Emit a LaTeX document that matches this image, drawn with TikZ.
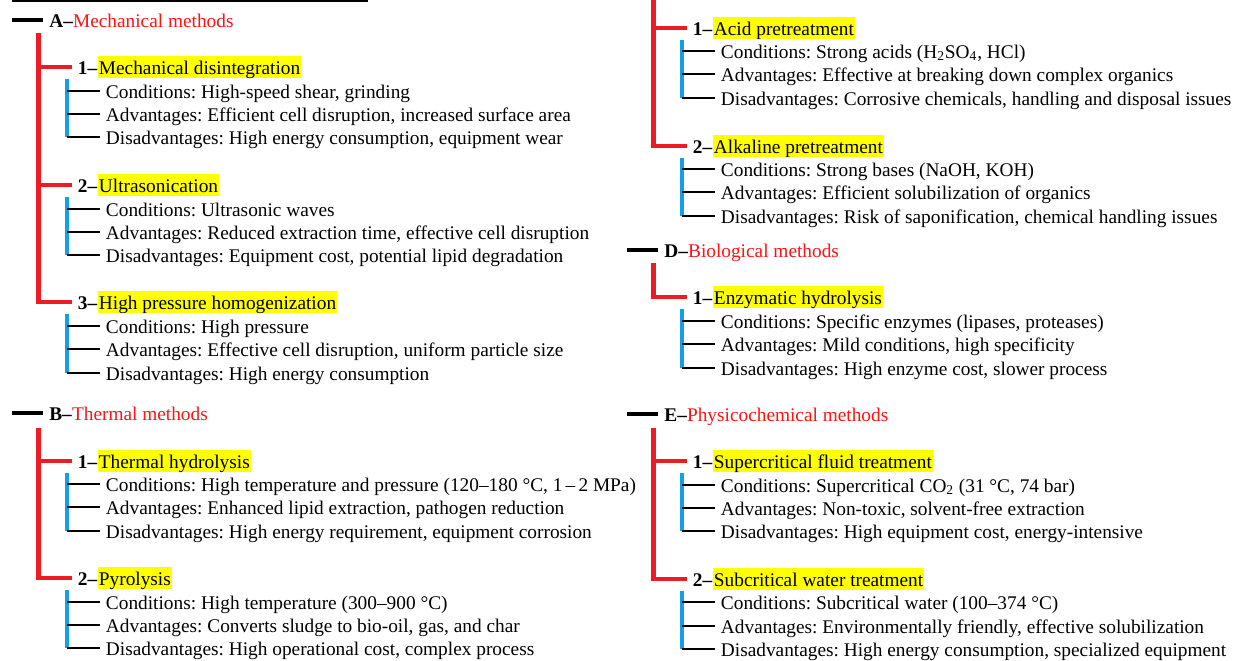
\documentclass[tikz,border=0pt]{standalone}
\usepackage{fontspec}
\setmainfont{Liberation Serif}
\usetikzlibrary{positioning}
\definecolor{lineRed}{RGB}{237,28,36}
\definecolor{textRed}{RGB}{250,20,20}
\definecolor{lineBlue}{RGB}{20,160,230}
\definecolor{markYellow}{RGB}{255,255,0}
\frenchspacing

\begin{document}
\begin{tikzpicture}[
    x=0.02cm, y=-0.02cm,
    font=\fontsize{11}{13}\selectfont,
    base/.style={inner sep=0pt, anchor=west, text height=9.5pt, text depth=1.5pt},
    heading/.style={base},
    num/.style={base, font=\fontsize{11}{13}\selectfont\bfseries},
    method/.style={base, fill=markYellow, inner xsep=0.6pt, inner ysep=0.75pt},
    leaf/.style={base, outer xsep=3.4pt},
    toprule/.style={line width=1.4pt},
    headbar/.style={line width=2.8pt, shorten >=3.4pt},
    branch/.style={draw=lineRed, line width=2.8pt, shorten >=3.4pt},
    stem/.style={draw=lineBlue, line width=2.1pt},
    twig/.style={line width=0.7pt}
]
    \useasboundingbox (0,0) rectangle (1239,660);

    % Top rule
    \coordinate (rule-l) at (12,1);
    \coordinate (rule-r) at (368,1);
    \draw[toprule] (rule-l) -- (rule-r);

    % Nodes - A
    \coordinate (A-bar) at (12,20);
    \node[heading] (hA) at (49,20) {\textbf{A–}\textcolor{textRed}{Mechanical methods}};
    \coordinate (A-top) at (38.5,33);

    \node[num] (a1n) at (77.5,67) {1–};
    \node[method, right=0pt of a1n] (a1) {Mechanical disintegration};
    \coordinate (a1-top) at (67,79);
    \node[leaf] (a1c) at (100,91) {Conditions: High-speed shear, grinding};
    \node[leaf] (a1a) at (100,114) {Advantages: Efficient cell disruption, increased surface area};
    \node[leaf] (a1d) at (100,137) {Disadvantages: High energy consumption, equipment wear};

    \node[num] (a2n) at (77.5,185) {2–};
    \node[method, right=0pt of a2n] (a2) {Ultrasonication};
    \coordinate (a2-top) at (67,197);
    \node[leaf] (a2c) at (100,209) {Conditions: Ultrasonic waves};
    \node[leaf] (a2a) at (100,232) {Advantages: Reduced extraction time, effective cell disruption};
    \node[leaf] (a2d) at (100,255) {Disadvantages: Equipment cost, potential lipid degradation};

    \node[num] (a3n) at (77.5,302) {3–};
    \node[method, right=0pt of a3n] (a3) {High pressure homogenization};
    \coordinate (a3-top) at (67,314);
    \node[leaf] (a3c) at (100,326) {Conditions: High pressure};
    \node[leaf] (a3a) at (100,349) {Advantages: Effective cell disruption, uniform particle size};
    \node[leaf] (a3d) at (100,373) {Disadvantages: High energy consumption};

    % Nodes - B
    \coordinate (B-bar) at (12,413);
    \node[heading] (hB) at (49,413) {\textbf{B–}\textcolor{textRed}{Thermal methods}};
    \coordinate (B-top) at (38.5,428);

    \node[num] (b1n) at (77.5,461) {1–};
    \node[method, right=0pt of b1n] (b1) {Thermal hydrolysis};
    \coordinate (b1-top) at (67,473);
    \node[leaf] (b1c) at (100,484) {Conditions: High temperature and pressure (120–180 °C, 1\,–\,2 MPa)};
    \node[leaf] (b1a) at (100,507) {Advantages: Enhanced lipid extraction, pathogen reduction};
    \node[leaf] (b1d) at (100,531) {Disadvantages: High energy requirement, equipment corrosion};

    \node[num] (b2n) at (77.5,578) {2–};
    \node[method, right=0pt of b2n] (b2) {Pyrolysis};
    \coordinate (b2-top) at (67,590);
    \node[leaf] (b2c) at (100,602) {Conditions: High temperature (300–900 °C)};
    \node[leaf] (b2a) at (100,625) {Advantages: Converts sludge to bio-oil, gas, and char};
    \node[leaf] (b2d) at (100,648) {Disadvantages: High operational cost, complex process};

    % Nodes - C
    \coordinate (C-top) at (653.5,-2);

    \node[num] (c1n) at (692.5,28) {1–};
    \node[method, right=0pt of c1n] (c1) {Acid pretreatment};
    \coordinate (c1-top) at (682,40);
    \node[leaf] (c1c) at (715,51) {Conditions: Strong acids (H\textsubscript{2}SO\textsubscript{4}, HCl)};
    \node[leaf] (c1a) at (715,74) {Advantages: Effective at breaking down complex organics};
    \node[leaf] (c1d) at (715,98) {Disadvantages: Corrosive chemicals, handling and disposal issues};

    \node[num] (c2n) at (692.5,146) {2–};
    \node[method, right=0pt of c2n] (c2) {Alkaline pretreatment};
    \coordinate (c2-top) at (682,158);
    \node[leaf] (c2c) at (715,169) {Conditions: Strong bases (NaOH, KOH)};
    \node[leaf] (c2a) at (715,192) {Advantages: Efficient solubilization of organics};
    \node[leaf] (c2d) at (715,216) {Disadvantages: Risk of saponification, chemical handling issues};

    % Nodes - D
    \coordinate (D-bar) at (627,250);
    \node[heading] (hD) at (664,250) {\textbf{D–}\textcolor{textRed}{Biological methods}};
    \coordinate (D-top) at (653.5,263);

    \node[num] (d1n) at (692.5,297) {1–};
    \node[method, right=0pt of d1n] (d1) {Enzymatic hydrolysis};
    \coordinate (d1-top) at (682,309);
    \node[leaf] (d1c) at (715,321) {Conditions: Specific enzymes (lipases, proteases)};
    \node[leaf] (d1a) at (715,344) {Advantages: Mild conditions, high specificity};
    \node[leaf] (d1d) at (715,368) {Disadvantages: High enzyme cost, slower process};

    % Nodes - E
    \coordinate (E-bar) at (627,414);
    \node[heading] (hE) at (664,414) {\textbf{E–}\textcolor{textRed}{Physicochemical methods}};
    \coordinate (E-top) at (653.5,428);

    \node[num] (e1n) at (692.5,461) {1–};
    \node[method, right=0pt of e1n] (e1) {Supercritical fluid treatment};
    \coordinate (e1-top) at (682,473);
    \node[leaf] (e1c) at (715,485) {Conditions: Supercritical CO\textsubscript{2} (31 °C, 74 bar)};
    \node[leaf] (e1a) at (715,508) {Advantages: Non-toxic, solvent-free extraction};
    \node[leaf] (e1d) at (715,531) {Disadvantages: High equipment cost, energy-intensive};

    \node[num] (e2n) at (692.5,579) {2–};
    \node[method, right=0pt of e2n] (e2) {Subcritical water treatment};
    \coordinate (e2-top) at (682,591);
    \node[leaf] (e2c) at (715,602) {Conditions: Subcritical water (100–374 °C)};
    \node[leaf] (e2a) at (715,626) {Advantages: Environmentally friendly, effective solubilization};
    \node[leaf] (e2d) at (715,649) {Disadvantages: High energy consumption, specialized equipment};

    % Connectors - A
    \draw[headbar] (A-bar) -- (hA.west);
    \draw[branch] (A-top) |- (a1n.west);
    \draw[branch] (A-top) |- (a2n.west);
    \draw[branch] (A-top) |- (a3n.west);
    \draw[stem] (a1-top) -- (a1-top |- a1d.west);
    \draw[twig] (a1-top |- a1c.west) -- (a1c.west) (a1-top |- a1a.west) -- (a1a.west) (a1-top |- a1d.west) -- (a1d.west);
    \draw[stem] (a2-top) -- (a2-top |- a2d.west);
    \draw[twig] (a2-top |- a2c.west) -- (a2c.west) (a2-top |- a2a.west) -- (a2a.west) (a2-top |- a2d.west) -- (a2d.west);
    \draw[stem] (a3-top) -- (a3-top |- a3d.west);
    \draw[twig] (a3-top |- a3c.west) -- (a3c.west) (a3-top |- a3a.west) -- (a3a.west) (a3-top |- a3d.west) -- (a3d.west);

    % Connectors - B
    \draw[headbar] (B-bar) -- (hB.west);
    \draw[branch] (B-top) |- (b1n.west);
    \draw[branch] (B-top) |- (b2n.west);
    \draw[stem] (b1-top) -- (b1-top |- b1d.west);
    \draw[twig] (b1-top |- b1c.west) -- (b1c.west) (b1-top |- b1a.west) -- (b1a.west) (b1-top |- b1d.west) -- (b1d.west);
    \draw[stem] (b2-top) -- (b2-top |- b2d.west);
    \draw[twig] (b2-top |- b2c.west) -- (b2c.west) (b2-top |- b2a.west) -- (b2a.west) (b2-top |- b2d.west) -- (b2d.west);

    % Connectors - C
    \draw[branch] (C-top) |- (c1n.west);
    \draw[branch] (C-top) |- (c2n.west);
    \draw[stem] (c1-top) -- (c1-top |- c1d.west);
    \draw[twig] (c1-top |- c1c.west) -- (c1c.west) (c1-top |- c1a.west) -- (c1a.west) (c1-top |- c1d.west) -- (c1d.west);
    \draw[stem] (c2-top) -- (c2-top |- c2d.west);
    \draw[twig] (c2-top |- c2c.west) -- (c2c.west) (c2-top |- c2a.west) -- (c2a.west) (c2-top |- c2d.west) -- (c2d.west);

    % Connectors - D
    \draw[headbar] (D-bar) -- (hD.west);
    \draw[branch] (D-top) |- (d1n.west);
    \draw[stem] (d1-top) -- (d1-top |- d1d.west);
    \draw[twig] (d1-top |- d1c.west) -- (d1c.west) (d1-top |- d1a.west) -- (d1a.west) (d1-top |- d1d.west) -- (d1d.west);

    % Connectors - E
    \draw[headbar] (E-bar) -- (hE.west);
    \draw[branch] (E-top) |- (e1n.west);
    \draw[branch] (E-top) |- (e2n.west);
    \draw[stem] (e1-top) -- (e1-top |- e1d.west);
    \draw[twig] (e1-top |- e1c.west) -- (e1c.west) (e1-top |- e1a.west) -- (e1a.west) (e1-top |- e1d.west) -- (e1d.west);
    \draw[stem] (e2-top) -- (e2-top |- e2d.west);
    \draw[twig] (e2-top |- e2c.west) -- (e2c.west) (e2-top |- e2a.west) -- (e2a.west) (e2-top |- e2d.west) -- (e2d.west);
\end{tikzpicture}
\end{document}
